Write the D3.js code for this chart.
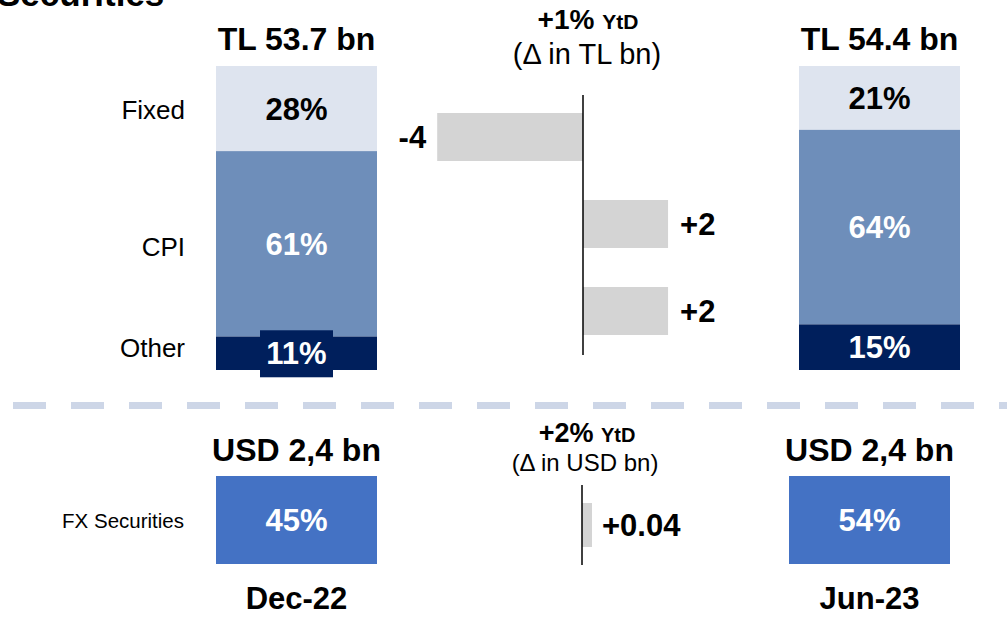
<!DOCTYPE html>
<html><head><meta charset="utf-8">
<script src="https://cdn.jsdelivr.net/npm/d3@7"></script>
<style>
html,body{margin:0;padding:0;background:#fff;}
svg{display:block;font-family:"Liberation Sans",Arial,sans-serif;}
</style></head>
<body><svg id="c" width="1007" height="618"></svg>
<script>
// ---- data ----
const periods = ["Dec-22", "Jun-23"];
const tlTotals = ["TL 53.7 bn", "TL 54.4 bn"];
const segments = ["Fixed", "CPI", "Other"];
const sharesDec22 = [28, 61, 11];
const sharesJun23 = [21, 64, 15];
const deltaTL = [-3.6, 2.1, 2.1];
const deltaTLLabels = ["-4", "+2", "+2"];
const tlYtd = "+1%";
const usdTotals = ["USD 2,4 bn", "USD 2,4 bn"];
const fxShares = [45, 54];
const fxDelta = [0.04];
const fxDeltaLabels = ["+0.04"];
const usdYtd = "+2%";

const colors = {Fixed:"#dee4ef", CPI:"#6e8eba", Other:"#001f5c"};
const textColors = {Fixed:"#000", CPI:"#fff", Other:"#fff"};
const svg = d3.select("#c");

// title (cut off at the top, as in the original slide)
svg.append("text").attr("x",-3).attr("y",6).attr("font-size",35).attr("font-weight","bold").text("Securities");

// ---- TL stacked bars ----
const colX = d3.scaleOrdinal().domain(periods).range([216, 799]);
const barW = 161;
const y = d3.scaleLinear().domain([0,100]).range([370, 66]);
const allShares = [sharesDec22, sharesJun23];

periods.forEach((p,pi)=>{
  const g = svg.append("g");
  const x0 = colX(p);
  let cum = 100;
  const stack = segments.map((s,i)=>{ const top = cum; cum -= allShares[pi][i]; return {s, v:allShares[pi][i], top, bot:cum}; });
  g.selectAll("rect").data(stack).join("rect")
    .attr("x", x0).attr("width", barW)
    .attr("y", d=>y(d.top)).attr("height", d=>y(d.bot)-y(d.top))
    .attr("fill", d=>colors[d.s]);
  stack.forEach(d=>{
    const cy = (y(d.top)+y(d.bot))/2;
    if (pi===0 && d.s==="Other") {
      g.append("rect").attr("x", x0+barW/2-36.5).attr("width",73).attr("y", cy-23).attr("height",47).attr("fill", colors.Other);
    }
    g.append("text").attr("x", x0+barW/2).attr("y", cy).attr("dy","0.36em")
      .attr("text-anchor","middle").attr("font-size",31).attr("font-weight","bold")
      .attr("fill", textColors[d.s]).text(d.v+"%");
  });
  g.append("text").attr("x", x0+barW/2).attr("y", 50).attr("text-anchor","middle")
    .attr("font-size",32).attr("font-weight","bold").text(tlTotals[pi]);
});

// segment labels
const segLabelY = {Fixed:110, CPI:247, Other:348};
svg.selectAll("text.seg").data(segments).join("text").attr("class","seg")
  .attr("x",185).attr("y", d=>segLabelY[d]).attr("dy","0.36em").attr("text-anchor","end")
  .attr("font-size",26).text(d=>d);

// ---- TL delta ----
const dx = d3.scaleLinear().domain([-4,4]).range([583-162, 583+162]);
const dy = d3.scaleBand().domain(segments).range([93.5, 354.5]).paddingInner(0.448).paddingOuter(0.224);
svg.selectAll("rect.d").data(deltaTL).join("rect").attr("class","d")
  .attr("x", d=>dx(Math.min(0,d))).attr("width", d=>Math.abs(dx(d)-dx(0)))
  .attr("y",(d,i)=>dy(segments[i])).attr("height", dy.bandwidth()).attr("fill","#d4d4d4");
svg.append("line").attr("x1",dx(0)).attr("x2",dx(0)).attr("y1",95).attr("y2",355).attr("stroke","#000").attr("stroke-width",1.5);
svg.selectAll("text.dl").data(deltaTL).join("text").attr("class","dl")
  .attr("x", d=> d<0 ? dx(d)-11 : dx(d)+12)
  .attr("y",(d,i)=>dy(segments[i])+dy.bandwidth()/2).attr("dy","0.36em")
  .attr("text-anchor", d=> d<0 ? "end":"start")
  .attr("font-size",31).attr("font-weight","bold").text((d,i)=>deltaTLLabels[i]);

const h1 = svg.append("text").attr("x",588).attr("y",29).attr("text-anchor","middle").attr("font-weight","bold");
h1.append("tspan").attr("font-size",28).text(tlYtd+" ");
h1.append("tspan").attr("font-size",21).text("YtD");
svg.append("text").attr("x",587).attr("y",64).attr("text-anchor","middle").attr("font-size",29).text("(\u0394 in TL bn)");

// ---- dashed separator ----
svg.append("line").attr("x1",13).attr("x2",1007).attr("y1",405.5).attr("y2",405.5)
  .attr("stroke","#cdd6e7").attr("stroke-width",7).attr("stroke-dasharray","33,25");

// ---- FX bars ----
const fxX = d3.scaleOrdinal().domain(periods).range([216, 789]);
svg.selectAll("rect.fx").data(fxShares).join("rect").attr("class","fx")
  .attr("x",(d,i)=>fxX(periods[i])).attr("width",barW).attr("y",476).attr("height",88).attr("fill","#4472c4");
svg.selectAll("text.fxv").data(fxShares).join("text").attr("class","fxv")
  .attr("x",(d,i)=>fxX(periods[i])+barW/2).attr("y",520).attr("dy","0.36em").attr("text-anchor","middle")
  .attr("font-size",31).attr("font-weight","bold").attr("fill","#fff").text(d=>d+"%");
svg.selectAll("text.usd").data(usdTotals).join("text").attr("class","usd")
  .attr("x",(d,i)=>fxX(periods[i])+barW/2).attr("y",461).attr("text-anchor","middle")
  .attr("font-size",32).attr("font-weight","bold").text(d=>d);
svg.selectAll("text.per").data(periods).join("text").attr("class","per")
  .attr("x",(d,i)=>fxX(d)+barW/2).attr("y",609).attr("text-anchor","middle")
  .attr("font-size",31).attr("font-weight","bold").text(d=>d);
svg.append("text").attr("x",184).attr("y",521).attr("dy","0.36em").attr("text-anchor","end").attr("font-size",20.5).text("FX Securities");

// FX delta
const fdx = d3.scaleLinear().domain([0,0.04]).range([582, 592]);
svg.selectAll("rect.fd").data(fxDelta).join("rect").attr("class","fd")
  .attr("x",fdx(0)).attr("width",d=>fdx(d)-fdx(0)).attr("y",503).attr("height",44).attr("fill","#d4d4d4");
svg.append("line").attr("x1",fdx(0)).attr("x2",fdx(0)).attr("y1",485).attr("y2",565).attr("stroke","#000").attr("stroke-width",1.5);
svg.selectAll("text.fdl").data(fxDelta).join("text").attr("class","fdl")
  .attr("x",d=>fdx(d)+10).attr("y",525).attr("dy","0.36em").attr("font-size",31).attr("font-weight","bold").text((d,i)=>fxDeltaLabels[i]);

const h2 = svg.append("text").attr("x",587).attr("y",442).attr("text-anchor","middle").attr("font-weight","bold");
h2.append("tspan").attr("font-size",27).text(usdYtd+" ");
h2.append("tspan").attr("font-size",20).text("YtD");
svg.append("text").attr("x",585).attr("y",471).attr("text-anchor","middle").attr("font-size",24).text("(\u0394 in USD bn)");
</script></body></html>
